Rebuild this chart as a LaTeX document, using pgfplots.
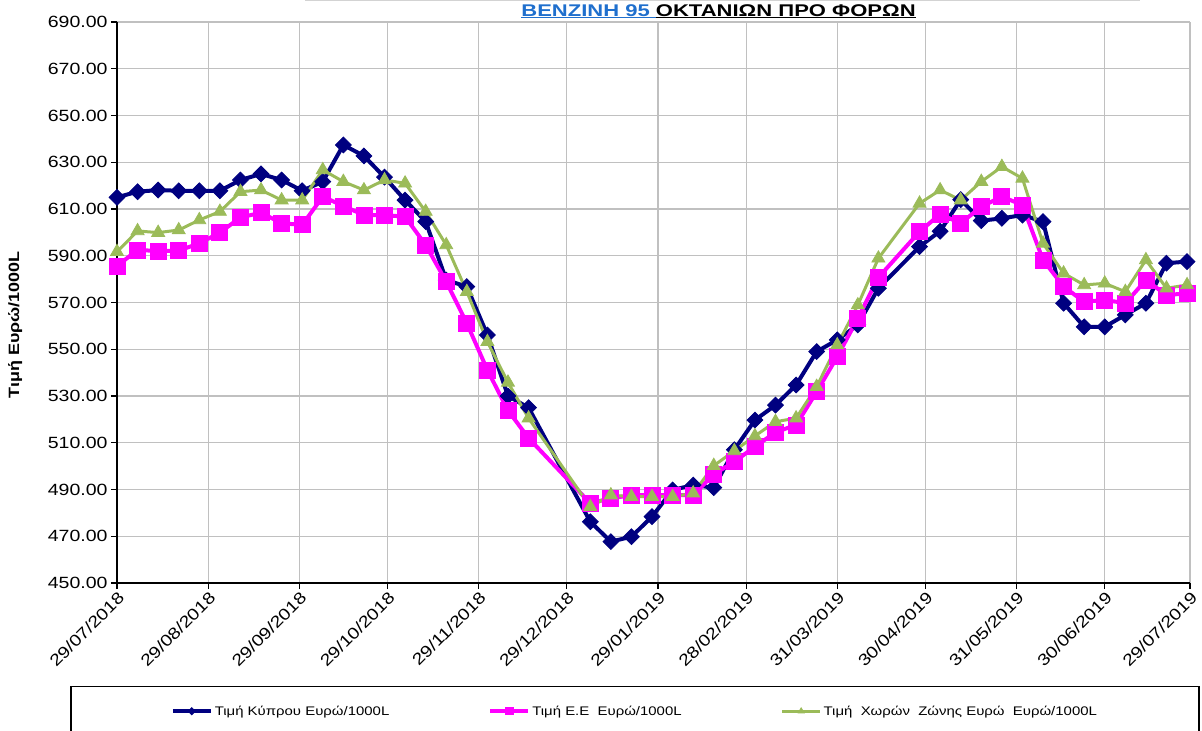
\documentclass[border=0pt]{standalone}
\usepackage{pgfplots}
\pgfplotsset{compat=1.18}
\usepackage{fontspec}
\setmainfont[FakeStretch=1.2]{Liberation Sans}
\newfontfamily\titlefont[FakeStretch=1.3]{Liberation Sans}
\definecolor{cyblue}{RGB}{0,0,128}
\definecolor{eupink}{RGB}{255,0,255}
\definecolor{ezgreen}{RGB}{155,187,89}
\definecolor{gridgray}{RGB}{192,192,192}
\definecolor{linkblue}{RGB}{31,111,205}
\begin{document}
\begin{tikzpicture}
\begin{axis}[
  name=ax, at={(0,0)}, anchor=south west,
  scale only axis, width=1073bp, height=561bp,
  xmin=0, xmax=365, ymin=450, ymax=690,
  axis x line*=bottom, axis y line*=left,
  axis line style={line width=1.5bp, black, -},
  xtick={0,31,62,92,123,153,184,214,245,275,306,336,365},
  xticklabels={29/07/2018,29/08/2018,29/09/2018,29/10/2018,29/11/2018,29/12/2018,29/01/2019,28/02/2019,31/03/2019,30/04/2019,31/05/2019,30/06/2019,29/07/2019},
  xticklabel style={rotate=45, anchor=north east, font=\fontsize{16.3}{18}\selectfont, inner sep=1bp},
  ytick={450,470,...,690},
  yticklabel style={font=\fontsize{16.3}{18}\selectfont, /pgf/number format/.cd, fixed, fixed zerofill, precision=2, 1000 sep={}, assume math mode=true},
  grid=major, major grid style={gridgray, line width=1.2bp},
  tick align=outside, major tick length=6bp, tick style={black, line width=1.2bp},
  title={\textcolor{linkblue}{\underline{ΒΕΝΖΙΝΗ 95\ }}\underline{ΟΚΤΑΝΙΩΝ ΠΡΟ ΦΟΡΩΝ}},
  title style={at={(0.5606,1.0)}, anchor=base, yshift=0bp, inner sep=0pt, font=\titlefont\bfseries\fontsize{17}{20}\selectfont},
  ylabel={Τιμή Ευρώ/1000L},
  ylabel style={at={(-0.095,0.46)}, anchor=center, font=\bfseries\fontsize{15}{17}\selectfont},
  legend columns=3, legend cell align=left,
  legend style={at={(-0.0438,-0.1836)}, anchor=north west, draw=black, line width=1.5bp,
    inner xsep=100bp, inner ysep=17bp, font=\fontsize{12.5}{14}\selectfont,
    /tikz/every even column/.append style={column sep=97bp}},
  legend image code/.code={
    \draw[#1,mark=none] (0bp,0bp) -- (38bp,0bp);
    \draw[#1,/tikz/every mark/.append style={scale=0.45}] plot coordinates {(19bp,0bp)};
  },
]
\addplot[color=cyblue, line width=4bp, mark=square*, mark size=5.6bp, mark options={rotate=45, line width=0.8bp}] coordinates {
(0,615.0)(7,617.4)(14,618.1)(21,617.8)(28,617.8)(35,617.8)(42,622.4)(49,625.0)(56,622.4)(63,617.8)(70,621.7)(77,637.4)(84,632.7)(91,623.6)(98,613.8)(105,604.6)(112,579.6)(119,576.8)(126,556.1)(133,530.0)(140,525.0)(161,476.2)(168,467.7)(175,469.8)(182,478.4)(189,489.8)(196,491.9)(203,490.8)(210,507.0)(217,519.7)(224,526.1)(231,534.7)(238,549.0)(245,554.0)(252,560.4)(259,576.1)(273,593.9)(280,600.5)(287,614.0)(294,605.0)(301,606.0)(308,607.4)(315,604.6)(322,569.7)(329,559.6)(336,559.6)(343,564.7)(350,569.7)(357,586.8)(364,587.5)
};
\addlegendentry{Τιμή Κύπρου Ευρώ/1000L}
\addplot[color=eupink, line width=4bp, mark=square*, mark size=8bp, mark options={line width=0.8bp}] coordinates {
(0,585.6)(7,592.5)(14,592.0)(21,592.2)(28,595.3)(35,599.9)(42,606.4)(49,608.4)(56,603.9)(63,603.2)(70,615.3)(77,611.3)(84,607.4)(91,607.4)(98,606.7)(105,594.6)(112,578.9)(119,561.1)(126,541.1)(133,523.8)(140,512.0)(161,484.1)(168,486.2)(175,487.6)(182,487.6)(189,487.6)(196,487.6)(203,496.5)(210,501.9)(217,508.3)(224,514.5)(231,517.6)(238,531.8)(245,546.8)(252,563.2)(259,580.7)(273,600.3)(280,607.8)(287,603.9)(294,611.0)(301,615.3)(308,611.7)(315,588.2)(322,576.8)(329,570.3)(336,571.1)(343,569.7)(350,579.6)(357,573.2)(364,573.9)
};
\addlegendentry{Τιμή Ε.Ε\ \ Ευρώ/1000L}
\addplot[color=ezgreen, line width=3bp, mark=triangle*, mark size=7.5bp, mark options={line width=0.8bp}] coordinates {
(0,591.7)(7,600.6)(14,599.9)(21,601.0)(28,605.3)(35,608.9)(42,617.4)(49,618.1)(56,613.8)(63,613.8)(70,626.7)(77,621.7)(84,618.1)(91,622.4)(98,621.0)(105,608.9)(112,594.6)(119,574.6)(126,553.2)(133,535.8)(140,520.5)(161,482.6)(168,487.6)(175,486.9)(182,486.9)(189,486.9)(196,488.4)(203,500.2)(210,506.5)(217,512.9)(224,519.0)(231,520.5)(238,534.0)(245,551.8)(252,568.9)(259,588.9)(273,612.4)(280,618.1)(287,613.8)(294,621.7)(301,628.1)(308,623.1)(315,595.3)(322,582.5)(329,577.5)(336,578.2)(343,574.6)(350,588.2)(357,576.1)(364,577.5)
};
\addlegendentry{Τιμή\ \ Χωρών\ \ Ζώνης Ευρώ\ \ Ευρώ/1000L}
\end{axis}
\draw[gridgray!70, line width=1.5bp] (188bp,582.5bp) -- (1023bp,582.5bp);
\pgfresetboundingbox
\path[use as bounding box] (-117bp,-148bp) rectangle (1085bp,583bp);
\end{tikzpicture}
\end{document}
